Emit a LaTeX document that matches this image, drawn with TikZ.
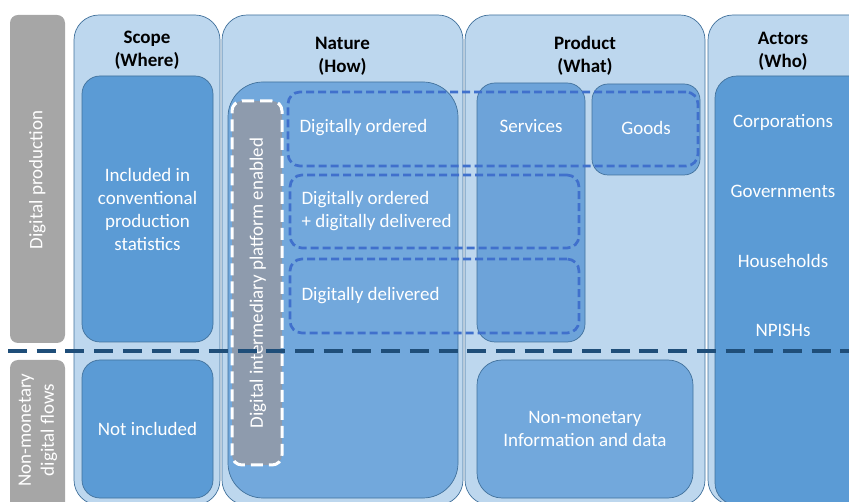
\documentclass[tikz,border=0pt]{standalone}
\usepackage{fontspec}
\setmainfont{Carlito}
\usetikzlibrary{positioning}
\definecolor{colfill}{HTML}{BDD7EE}
\definecolor{colline}{HTML}{41719C}
\definecolor{darkin}{HTML}{5B9BD5}
\definecolor{midin}{HTML}{72A8DC}
\definecolor{prodin}{HTML}{6DA3D9}
\definecolor{barfill}{HTML}{A6A6A6}
\definecolor{platfill}{HTML}{8E9BAD}
\definecolor{dashblue}{HTML}{4070CC}
\definecolor{sepline}{HTML}{1F4E79}
\tikzset{
  box/.style={draw=colline, line width=0.7pt, inner sep=0pt, rectangle},
  colbox/.style={box, fill=colfill, rounded corners=25pt},
  inbox/.style={box, rounded corners=18pt, text=white, align=center, font=\fontsize{19}{23}\selectfont},
  bar/.style={rectangle, fill=barfill, rounded corners=8pt, inner sep=0pt},
  dbox/.style={rectangle, draw=dashblue, line width=2.7pt, dash pattern=on 8pt off 4pt, rounded corners=12pt, inner sep=0pt},
  plat/.style={rectangle, draw=white, fill=platfill, line width=3pt, dash pattern=on 12pt off 6pt, rounded corners=10pt, inner sep=0pt},
  head/.style={font=\fontsize{19}{23}\selectfont\bfseries, align=center, text=black},
  wtxt/.style={font=\fontsize{19}{23}\selectfont, text=white, align=center},
  ltxt/.style={font=\fontsize{19}{23}\selectfont, text=white, align=left, anchor=west},
  sep/.style={draw=sepline, line width=4pt, dash pattern=on 19pt off 9.7pt}
}
\begin{document}
\begin{tikzpicture}[x=1pt,y=-1pt]
\useasboundingbox (0,0) rectangle (849,502);
\clip (0,0) rectangle (849,502);
% grey side bars
\node[bar, minimum width=55pt, minimum height=328pt] (gp) at (37.5,179) {};
\node[bar, minimum width=55pt, minimum height=150pt] (gn) at (37.5,435) {};
\node[wtxt, rotate=90] (gpt) at (37.5,180) {Digital production};
\node[wtxt, rotate=90] (gnt) at (38,430) {Non-monetary\\digital flows};
% columns
\node[colbox, minimum width=146pt, minimum height=490pt] (scope) at (147,260) {};
\node[colbox, minimum width=241pt, minimum height=490pt] (nature) at (342.5,260) {};
\node[colbox, minimum width=240pt, minimum height=490pt] (product) at (585,260) {};
\node[colbox, minimum width=172pt, minimum height=490pt] (actors) at (794,260) {};
% headings
\node[head] (hs) at (147,50) {Scope\\(Where)};
\node[head] (hn) at (342.5,56) {Nature\\(How)};
\node[head] (hp) at (585,56) {Product\\(What)};
\node[head] (ha) at (783,51) {Actors\\(Who)};
% inner boxes
\node[inbox, fill=darkin, minimum width=131pt, minimum height=266pt] (scopetop) at (147.5,209) {Included in\\conventional\\production\\statistics};
\node[inbox, fill=darkin, minimum width=131pt, minimum height=138pt] (scopebot) at (147.5,429) {Not included};
\node[inbox, fill=midin, rounded corners=35pt, minimum width=230pt, minimum height=416pt] (naturein) at (343,290) {};
\node[inbox, fill=prodin, minimum width=108pt, minimum height=259pt] (services) at (531,212.5) {};
\node[inbox, fill=prodin, rounded corners=16pt, minimum width=108pt, minimum height=91pt] (goods) at (646,129.5) {};
\node[inbox, fill=midin, rounded corners=25pt, minimum width=216pt, minimum height=138pt] (prodbot) at (585,429) {Non-monetary\\Information and data};
\node[inbox, fill=darkin, rounded corners=22pt, minimum width=165pt, minimum height=429pt] (actorsin) at (797.5,290.5) {};
% product labels
\node[wtxt] (tserv) at (531,126) {Services};
\node[wtxt] (tgood) at (646,128) {Goods};
% actors
\node[wtxt] (a1) at (783,122) {Corporations};
\node[wtxt] (a2) at (783,191) {Governments};
\node[wtxt] (a3) at (783,261) {Households};
\node[wtxt] (a4) at (783,330) {NPISHs};
% dashed groups
\node[dbox, minimum width=410pt, minimum height=74pt] (d1) at (493,129) {};
\node[dbox, minimum width=289pt, minimum height=73pt] (d2) at (434.5,211.5) {};
\node[dbox, minimum width=289pt, minimum height=74pt] (d3) at (434.5,296) {};
\node[ltxt] (t1) at (296,128) {Digitally ordered};
\node[ltxt] (t2) at (298,211) {Digitally ordered\\+ digitally delivered};
\node[ltxt] (t3) at (298,296) {Digitally delivered};
% platform
\node[plat, minimum width=50pt, minimum height=364pt] (plat) at (257,283) {};
\node[wtxt, rotate=90] (platt) at (258,283) {Digital intermediary platform enabled};
% separator
\coordinate (sl) at (8,351);
\coordinate (sr) at (870,351);
\draw[sep] (sl) -- (sr);
\end{tikzpicture}
\end{document}
